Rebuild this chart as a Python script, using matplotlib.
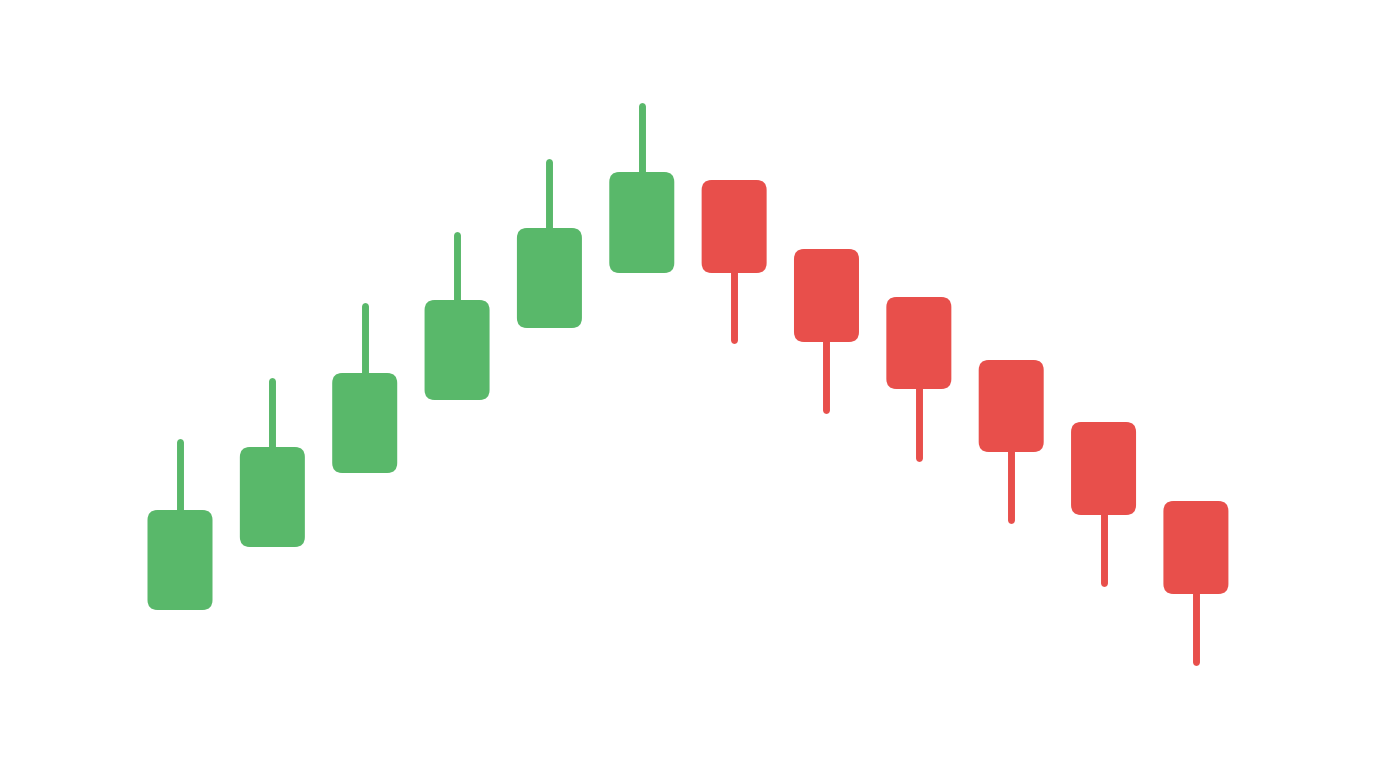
import numpy as np
import matplotlib
matplotlib.use("Agg")
import matplotlib.pyplot as plt
from matplotlib.patches import FancyBboxPatch

# price values (arbitrary units)
opens  = [31.6, 44.2, 59.0, 73.6, 88.0, 99.0, 117.6, 103.8, 94.2, 81.6, 69.2, 53.4]
closes = [51.6, 64.2, 79.0, 93.6, 108.0, 119.2, 99.0, 85.2, 75.8, 63.2, 50.6, 34.8]
highs  = [65.2, 77.4, 92.4, 106.6, 121.2, 132.4, 117.6, 103.8, 94.2, 81.6, 69.2, 53.4]
lows   = [31.6, 44.2, 59.0, 73.6, 88.0, 99.0, 85.6, 71.6, 62.0, 49.6, 37.0, 21.2]

GREEN = "#59b86a"
RED = "#e84f4b"

fig = plt.figure(figsize=(13.76, 7.68), dpi=100)
ax = fig.add_axes([0, 0, 1, 1])
ax.set_xlim(-1.949, 12.95)
ax.set_ylim(0, 153.6)
ax.axis("off")

# pixel size of one data unit, used to keep the rounded corners round
px_x = 1376 / (12.95 + 1.949)
px_y = 768 / 153.6
aspect = px_x / px_y

body_w = 65 / px_x
radius = 10 / px_x

x = np.arange(len(opens))
for i in x:
    o, c, h, l = opens[i], closes[i], highs[i], lows[i]
    col = GREEN if c >= o else RED
    top, bot = max(o, c), min(o, c)
    # wicks (drawn first so the body covers the join)
    segs = []
    if h > top:
        segs.append((top - 2, h))
    if l < bot:
        segs.append((l, bot + 2))
    for a, b in segs:
        ax.plot([i, i], [a, b], color=col, lw=5.0, solid_capstyle="round", zorder=1)
    box = FancyBboxPatch((i - body_w / 2 + radius, bot + radius * aspect),
                         body_w - 2 * radius, top - bot - 2 * radius * aspect,
                         boxstyle=f"round,pad={radius},rounding_size={radius}",
                         mutation_aspect=aspect,
                         facecolor=col, edgecolor="none", zorder=2)
    ax.add_patch(box)

fig.savefig("out.png", dpi=100, facecolor="white")
